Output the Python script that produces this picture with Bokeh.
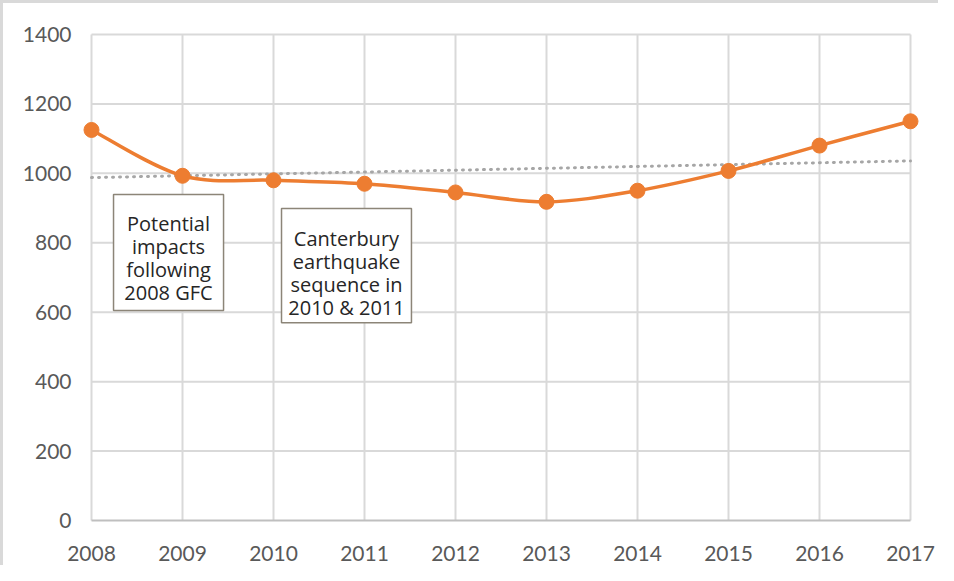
import numpy as np
from bokeh.plotting import figure
from bokeh.models import Range1d, Label, BoxAnnotation, FixedTicker
from bokeh.embed import file_html
from bokeh.resources import INLINE

# ---- data ----
years = [2008, 2009, 2010, 2011, 2012, 2013, 2014, 2015, 2016, 2017]
values = [1125, 993, 980, 970, 945, 918, 950, 1007, 1080, 1150]
y_ticks = [0, 200, 400, 600, 800, 1000, 1200, 1400]
note1 = "Potential\nimpacts\nfollowing\n2008 GFC"
note2 = "Canterbury\nearthquake\nsequence in\n2010 & 2011"

ORANGE = "#ED7D31"
GRID = "#D9D9D9"
TXT = "#595959"

xpad = 0.11
ypad = 28.8
p = figure(width=938, height=565, output_backend="svg", toolbar_location=None,
           x_range=Range1d(years[0] - xpad, years[-1] + xpad),
           y_range=Range1d(y_ticks[0] - ypad, y_ticks[-1] + ypad),
           min_border_left=78, min_border_right=21, min_border_top=21, min_border_bottom=38)
p.outline_line_color = None
p.xgrid.visible = False
p.ygrid.visible = False
p.styles = {"border-top": "3px solid #D9D9D9", "border-left": "3px solid #D9D9D9"}

# grid lines built from tick arrays
x0, x1 = years[0], years[-1]
y0, y1 = y_ticks[0], y_ticks[-1]
p.segment(x0=years, y0=[y0] * len(years), x1=years, y1=[y1] * len(years),
          line_color=GRID, line_width=2)
p.segment(x0=[x0] * len(y_ticks[1:]), y0=y_ticks[1:], x1=[x1] * len(y_ticks[1:]), y1=y_ticks[1:],
          line_color=GRID, line_width=2)
p.segment(x0=[x0], y0=[y0], x1=[x1], y1=[y0], line_color="#BFBFBF", line_width=2)

# axes
for ax in (p.xaxis[0], p.yaxis[0]):
    ax.axis_line_color = None
    ax.major_tick_line_color = None
    ax.minor_tick_line_color = None
    ax.major_label_text_font = "Lato"
    ax.major_label_text_font_size = "21px"
    ax.major_label_text_color = TXT
p.xaxis.ticker = FixedTicker(ticks=years)
p.yaxis.ticker = FixedTicker(ticks=y_ticks)
p.xaxis.major_label_standoff = 9
p.yaxis.major_label_standoff = 4

# linear trendline (least squares fit of the series)
xs = np.array(years, dtype=float)
coef = np.polyfit(xs, np.array(values, dtype=float), 1)
p.line([xs[0], xs[-1]], [np.polyval(coef, xs[0]), np.polyval(coef, xs[-1])],
       line_color="#A6A6A6", line_width=3, line_dash="1 6", line_cap="round")

# smoothed line via Catmull-Rom bezier segments
P = np.column_stack([xs, np.array(values, dtype=float)])
Pe = np.vstack([P[0], P, P[-1]])
bx0, by0, bx1, by1, cx0, cy0, cx1, cy1 = [], [], [], [], [], [], [], []
for i in range(len(P) - 1):
    a, b, c, d = Pe[i], Pe[i + 1], Pe[i + 2], Pe[i + 3]
    c1 = b + (c - a) / 6.0
    c2 = c - (d - b) / 6.0
    bx0.append(b[0]); by0.append(b[1]); bx1.append(c[0]); by1.append(c[1])
    cx0.append(c1[0]); cy0.append(c1[1]); cx1.append(c2[0]); cy1.append(c2[1])
p.bezier(x0=bx0, y0=by0, x1=bx1, y1=by1, cx0=cx0, cy0=cy0, cx1=cx1, cy1=cy1,
         line_color=ORANGE, line_width=3.5)
p.scatter(years, values, size=15, fill_color=ORANGE, line_color=ORANGE)

# annotation boxes
box_style = dict(fill_color="white", fill_alpha=1.0, line_color="#8C8578", line_width=1.5, line_alpha=1.0)
p.add_layout(BoxAnnotation(left=2008.242, right=2009.451, top=939, bottom=605, **box_style))
p.add_layout(BoxAnnotation(left=2010.088, right=2011.516, top=899, bottom=570, **box_style))
p.add_layout(Label(x=2008.846, y=894, text=note1, text_align="center", text_baseline="top",
                   text_font="Open Sans", text_font_size="20px", text_color="#262626",
                   text_line_height=0.85))
p.add_layout(Label(x=2010.802, y=852, text=note2, text_align="center", text_baseline="top",
                   text_font="Open Sans", text_font_size="20px", text_color="#262626",
                   text_line_height=0.85))

open("out.html", "w").write(file_html(p, INLINE))
